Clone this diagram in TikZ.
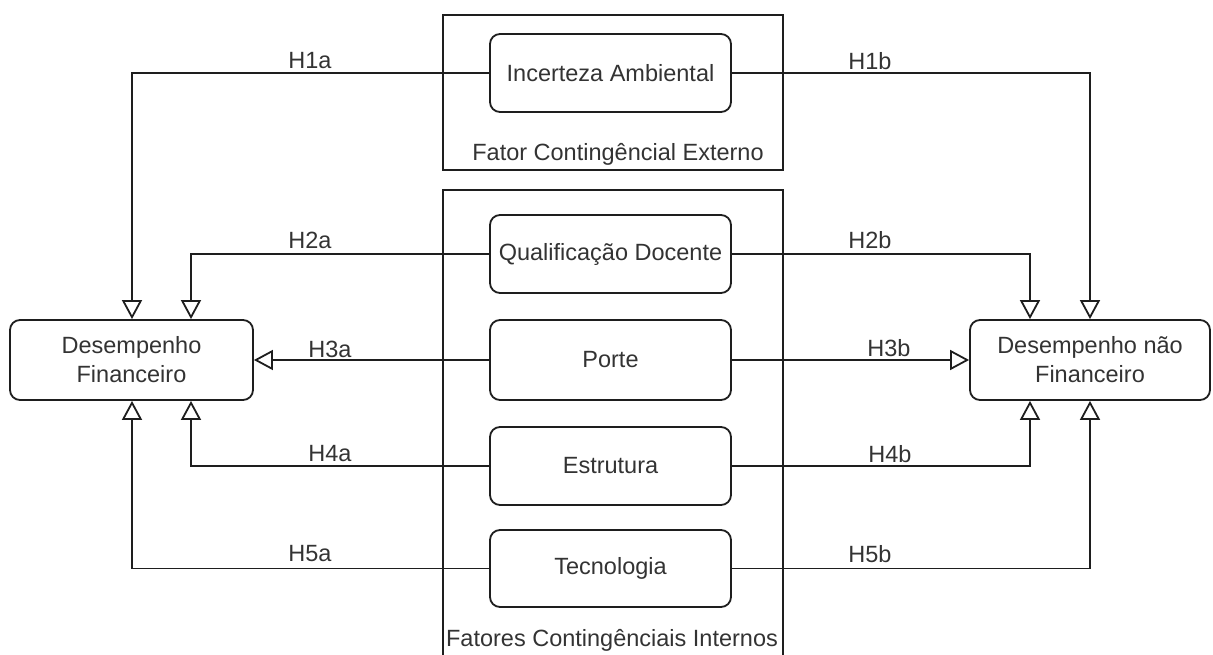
\documentclass[tikz,border=0pt]{standalone}
\usepackage{fontspec}
\setmainfont{Liberation Sans}
\usetikzlibrary{arrows.meta}
\definecolor{txt}{HTML}{333333}
\definecolor{ln}{HTML}{1E1E1E}
\tikzset{
  box/.style={draw=ln, line width=1.8pt, rounded corners=10pt, fill=white, text=txt, align=center, inner sep=0pt, font=\fontsize{23.5}{29}\selectfont},
  frame/.style={draw=ln, line width=1.8pt},
  conn/.style={draw=ln, line width=1.8pt, -{Triangle[open, length=19pt, width=20pt, line width=1.8pt]}},
  lbl/.style={text=txt, font=\fontsize{23.5}{29}\selectfont, inner sep=0pt},
}
\begin{document}
\begin{tikzpicture}[x=1pt,y=-1pt]
\useasboundingbox (0,0) rectangle (1213,655);
\clip (0,0) rectangle (1213,655);
% frames
\draw[frame] (443,15) rectangle (783,170);
\draw[frame] (443,190) rectangle (783,680);
\node[lbl] (fext) at (618,154) {Fator Contingêncial Externo};
\node[lbl] (fint) at (612,640) {Fatores Contingênciais Internos};
% nodes
\node[box, minimum width=241pt, minimum height=78pt] (inc) at (610.5,73) {Incerteza Ambiental};
\node[box, minimum width=241pt, minimum height=78pt] (qual) at (610.5,254) {Qualificação Docente};
\node[box, minimum width=241pt, minimum height=80pt] (porte) at (610.5,360) {Porte};
\node[box, minimum width=241pt, minimum height=78pt] (estr) at (610.5,466) {Estrutura};
\node[box, minimum width=241pt, minimum height=77pt] (tec) at (610.5,568.5) {Tecnologia};
\node[box, minimum width=243pt, minimum height=80pt] (df) at (131.5,360) {Desempenho\\Financeiro};
\node[box, minimum width=240pt, minimum height=80pt] (dnf) at (1090,360) {Desempenho não\\Financeiro};
% connectors left
\draw[conn] (inc.west) -| ([xshift=0.5pt]df.north);
\draw[conn] (qual.west) -| ([xshift=59.5pt]df.north);
\draw[conn] (porte.west) -- (df.east);
\draw[conn] (estr.west) -| ([xshift=59.5pt]df.south);
\draw[conn] (tec.west) -| ([xshift=0.5pt]df.south);
% connectors right
\draw[conn] (inc.east) -| (dnf.north);
\draw[conn] (qual.east) -| ([xshift=-60pt]dnf.north);
\draw[conn] (porte.east) -- (dnf.west);
\draw[conn] (estr.east) -| ([xshift=-60pt]dnf.south);
\draw[conn] (tec.east) -| (dnf.south);
% labels
\node[lbl] (h1a) at (310,61) {H1a};
\node[lbl] (h1b) at (870,61) {H1b};
\node[lbl] (h2a) at (310,240) {H2a};
\node[lbl] (h2b) at (870,240) {H2b};
\node[lbl] (h3a) at (330,349) {H3a};
\node[lbl] (h3b) at (889,348) {H3b};
\node[lbl] (h4a) at (330,454) {H4a};
\node[lbl] (h4b) at (890,454) {H4b};
\node[lbl] (h5a) at (310,554) {H5a};
\node[lbl] (h5b) at (870,554) {H5b};
\end{tikzpicture}
\end{document}
